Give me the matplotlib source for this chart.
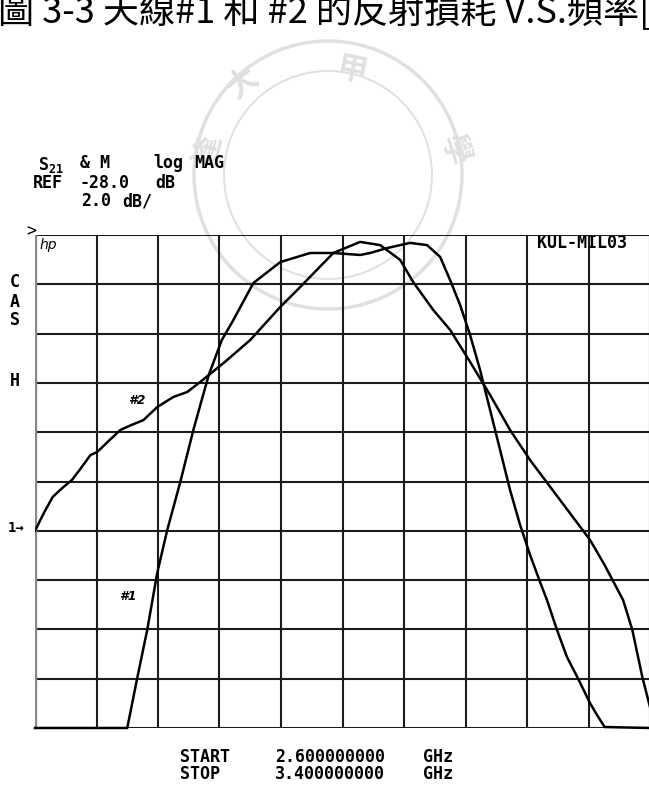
import matplotlib
matplotlib.use("Agg")
import matplotlib.pyplot as plt
from matplotlib.patches import Circle

plt.rcParams['mathtext.fontset'] = 'custom'
plt.rcParams['mathtext.rm'] = 'DejaVu Sans Mono:bold'
plt.rcParams['mathtext.it'] = 'DejaVu Sans Mono:bold'
plt.rcParams['mathtext.bf'] = 'DejaVu Sans Mono:bold'

# Sweep and display settings of the network analyzer
f_start, f_stop = 2.6, 3.4          # GHz
ref_db, db_per_div = -28.0, 2.0     # REF level and scale
ref_pos = 4                         # reference line, divisions above bottom
n_xdiv, n_ydiv = 10, 10

# Antenna #1 (narrower band, pinned at the bottom line outside the band)
freq_1 = [2.600, 2.720, 2.733, 2.746, 2.759, 2.772, 2.789, 2.806, 2.815,
          2.826, 2.843, 2.858, 2.884, 2.919, 2.958, 2.988, 3.023, 3.036,
          3.058, 3.088, 3.110, 3.127, 3.140, 3.153, 3.166, 3.179, 3.192,
          3.205, 3.218, 3.231, 3.244, 3.257, 3.266, 3.279, 3.292, 3.306,
          3.322, 3.331, 3.341, 3.400]
s21_1 = [-36.00, -36.00, -33.97, -32.02, -29.71, -27.97, -26.02, -23.91,
         -22.90, -21.68, -20.26, -19.45, -17.95, -17.10, -16.73, -16.73,
         -16.81, -16.73, -16.53, -16.32, -16.41, -16.89, -17.83, -18.84,
         -20.06, -21.48, -23.10, -24.72, -26.35, -27.76, -28.98, -30.08,
         -30.81, -32.02, -33.12, -33.97, -34.99, -35.47, -35.96, -36.00]

# Antenna #2 (broader band)
freq_2 = [2.600, 2.612, 2.623, 2.636, 2.648, 2.660, 2.672, 2.681, 2.696,
          2.711, 2.726, 2.741, 2.759, 2.780, 2.798, 2.815, 2.847, 2.880,
          2.919, 2.945, 2.988, 3.023, 3.049, 3.075, 3.092, 3.118, 3.140,
          3.166, 3.192, 3.218, 3.244, 3.283, 3.322, 3.341, 3.365, 3.377,
          3.390, 3.400]
s21_2 = [-28.00, -27.25, -26.63, -26.25, -25.94, -25.45, -24.93, -24.80,
         -24.35, -23.91, -23.70, -23.51, -22.98, -22.57, -22.37, -21.96,
         -21.15, -20.26, -18.92, -18.11, -16.73, -16.28, -16.41, -17.01,
         -17.91, -19.04, -19.85, -21.15, -22.49, -23.91, -25.13, -26.75,
         -28.37, -29.39, -30.81, -32.02, -33.93, -35.15]

header_lines = ["REF", "-28.0", "dB", "2.0", "dB/"]

W, H = 649, 785
fig = plt.figure(figsize=(W / 100, H / 100), dpi=100)

# full-page layer in pixel units for the page decorations
bg = fig.add_axes([0, 0, 1, 1], zorder=0)
bg.set_xlim(0, W)
bg.set_ylim(H, 0)
bg.axis('off')

# faint university seal behind the plot
wm = '#e0e0e0'
cx, cy = 328, 175
for r, lw in [(134, 2.5), (104, 1.4)]:
    bg.add_patch(Circle((cx, cy), r, fill=False, ec=wm, lw=lw, zorder=0))
for ch, x, y, rot in [("大", 243, 82, 38), ("甲", 352, 70, -12),
                      ("逢", 208, 150, 75), ("學", 455, 150, -72)]:
    bg.text(x, y, ch, fontsize=22, color=wm, ha='center', va='center',
            rotation=rot, family=['Noto Sans CJK TC'], fontweight='bold', zorder=0)

# caption line at the top of the page
bg.text(-2, 12, "圖 3-3 天線#1 和 #2 的反射損耗 V.S.頻率[", fontsize=26,
        family=['Noto Sans CJK TC', 'DejaVu Sans'], ha='left', va='center',
        color='black')

mono = dict(family='DejaVu Sans Mono', fontweight='bold', color='black',
            fontsize=12, va='center', ha='left')

# instrument header
bg.text(38, 165, r"$\mathrm{S}_{21}$", **mono)
bg.text(80, 163, "&", **mono)
bg.text(99, 163, "M", **mono)
bg.text(153, 163, "log", **mono)
bg.text(194, 163, "MAG", **mono)
bg.text(33, 183, header_lines[0], **mono)
bg.text(80, 183, header_lines[1], **mono)
bg.text(155, 183, header_lines[2], **mono)
bg.text(81, 201, header_lines[3], **mono)
bg.text(122, 201, header_lines[4], **mono)

# left-hand annunciators
for ch, y in [("C", 282), ("A", 302), ("S", 320), ("H", 381)]:
    bg.text(15, y, ch, **{**mono, 'ha': 'center'})
bg.text(16, 528, "1→", **{**mono, 'ha': 'center', 'fontsize': 10})
bg.text(31, 231, ">", **{**mono, 'ha': 'center', 'fontsize': 12,
                         'fontweight': 'normal'})

# sweep footer
for txt, x, y in [("START", 180, 757), ("2.600000000", 275, 757), ("GHz", 423, 757),
                  ("STOP", 180, 774), ("3.400000000", 275, 774), ("GHz", 423, 774)]:
    bg.text(x, y, txt, **mono)

# measurement grid
ax = fig.add_axes([35 / W, 1 - 728 / H, 615 / W, 493 / H], zorder=1)
ax.patch.set_alpha(0)
y_bottom = ref_db - ref_pos * db_per_div
y_top = y_bottom + n_ydiv * db_per_div
ax.set_xlim(f_start, f_stop)
ax.set_ylim(y_bottom, y_top)
dx = (f_stop - f_start) / n_xdiv
for i in range(n_xdiv + 1):
    ax.axvline(f_start + i * dx, color='#1c1c1c', lw=1.5, zorder=1)
for j in range(n_ydiv + 1):
    ax.axhline(y_bottom + j * db_per_div, color='#1c1c1c', lw=1.5, zorder=1)
ax.axvline(f_start, color='#8a8a8a', lw=2.4, zorder=1)
for s in ax.spines.values():
    s.set_visible(False)
ax.set_xticks([])
ax.set_yticks([])

ax.plot(freq_1, s21_1, color='black', lw=1.8, zorder=3, clip_on=False)
ax.plot(freq_2, s21_2, color='black', lw=1.8, zorder=3, clip_on=True)

# trace labels and screen annotations
ax.text(0.165, 0.665, "#2", transform=ax.transAxes, fontsize=9, style='italic',
        fontweight='bold', ha='center', va='center', family='DejaVu Sans')
ax.text(0.151, 0.266, "#1", transform=ax.transAxes, fontsize=9, style='italic',
        fontweight='bold', ha='center', va='center', family='DejaVu Sans')
bg.text(40, 245, "hp", fontsize=10, style='italic', family='DejaVu Sans',
        ha='left', va='center')
bg.text(537, 243, "KUL-MIL03", **mono)

fig.savefig("out.png", dpi=100, facecolor='white')
